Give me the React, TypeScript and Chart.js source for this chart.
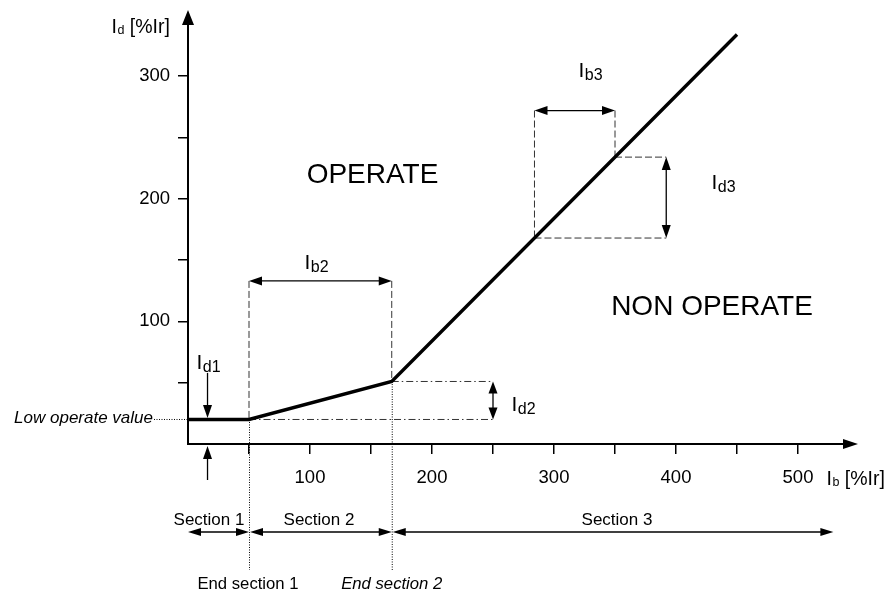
import React, { useEffect, useRef } from "react";
import { Chart, registerables } from "chart.js";

Chart.register(...registerables);

const FONT = '"Liberation Sans", Arial, Helvetica, sans-serif';

// Characteristic curve: bias current Ib vs differential current Id (both in %Ir)
const curveIb = [0, 50, 167, 450];
const curveId = [20, 20, 51, 334];

// Axis ranges and ticks
const xRange = [0, 550];
const yRange = [0, 354];
const tickStep = 50;
const xLabelTicks = [100, 200, 300, 400, 500];
const yLabelTicks = [100, 200, 300];
const xMarkMax = 500;
const yMarkMax = 300;

// Annotation values (in %Ir)
const lowOperateValue = 20;
const endSection1 = 50;
const endSection2 = 167;
const section3End = 529;
const ib2ArrowLevel = 133;
const ib3Range = [284, 350];
const id3Range = [168, 234];
const ib3ArrowLevel = 272;
const id3ArrowIb = 392;
const id2ArrowIb = 250;
const id1ArrowIb = 16;
const id1ArrowTop = 58;

const pts = (arr: number[][]) => arr.map(([x, y]) => ({ x, y }));

const dashedSegments = [
  [[endSection1, ib2ArrowLevel], [endSection1, lowOperateValue]],
  [[endSection2, ib2ArrowLevel], [endSection2, curveId[2]]],
  [[ib3Range[0], ib3ArrowLevel], [ib3Range[0], id3Range[0]]],
  [[ib3Range[1], ib3ArrowLevel], [ib3Range[1], id3Range[1]]],
  [[ib3Range[1], id3Range[1]], [id3ArrowIb, id3Range[1]]],
  [[ib3Range[0], id3Range[0]], [id3ArrowIb, id3Range[0]]],
];
const dashDotSegments = [
  [[endSection2, curveId[2]], [id2ArrowIb, curveId[2]]],
  [[endSection1, lowOperateValue], [id2ArrowIb, lowOperateValue]],
];

function head(ctx: CanvasRenderingContext2D, tx: number, ty: number, ang: number, len: number, half: number) {
  const c = Math.cos(ang), s = Math.sin(ang);
  ctx.beginPath();
  ctx.moveTo(tx, ty);
  ctx.lineTo(tx - len * c + half * s, ty - len * s - half * c);
  ctx.lineTo(tx - len * c - half * s, ty - len * s + half * c);
  ctx.closePath();
  ctx.fill();
}

function arrow(
  ctx: CanvasRenderingContext2D,
  x1: number, y1: number, x2: number, y2: number,
  both: boolean, len = 12, half = 4.5, lw = 1.3
) {
  const ang = Math.atan2(y2 - y1, x2 - x1);
  const c = Math.cos(ang), s = Math.sin(ang);
  const sx = both ? x1 + c * (len - 2) : x1;
  const sy = both ? y1 + s * (len - 2) : y1;
  ctx.lineWidth = lw;
  ctx.beginPath();
  ctx.moveTo(sx, sy);
  ctx.lineTo(x2 - c * (len - 2), y2 - s * (len - 2));
  ctx.stroke();
  head(ctx, x2, y2, ang, len, half);
  if (both) head(ctx, x1, y1, ang + Math.PI, len, half);
}

function subLabel(
  ctx: CanvasRenderingContext2D, x: number, base: number,
  main: string, sub: string, rest: string,
  size: number, subSize: number, drop: number
) {
  ctx.textAlign = "left";
  ctx.textBaseline = "alphabetic";
  ctx.font = `${size}px ${FONT}`;
  ctx.fillText(main, x, base);
  const w1 = ctx.measureText(main).width;
  ctx.font = `${subSize}px ${FONT}`;
  ctx.fillText(sub, x + w1 + 0.5, base + drop);
  const w2 = ctx.measureText(sub).width;
  if (rest) {
    ctx.font = `${size}px ${FONT}`;
    ctx.fillText(rest, x + w1 + w2 + 0.5, base);
  }
}

const diagramPlugin = {
  id: "diagram",
  afterDatasetsDraw(chart: any) {
    const ctx: CanvasRenderingContext2D = chart.ctx;
    const xs = chart.scales.x, ys = chart.scales.y;
    const px = (v: number) => xs.getPixelForValue(v);
    const py = (v: number) => ys.getPixelForValue(v);
    const y0 = py(0), x0 = px(0);
    ctx.save();
    ctx.strokeStyle = "#000";
    ctx.fillStyle = "#000";

    // Axes with arrows
    arrow(ctx, x0, y0, px(xRange[1]) - 1, y0, false, 15, 5, 2);
    arrow(ctx, x0, y0 + 1, x0, py(yRange[1]), false, 15, 6, 2);

    // Dotted leader for low operate value
    ctx.lineWidth = 1;
    ctx.setLineDash([1, 1.5]);
    ctx.beginPath();
    ctx.moveTo(154, py(lowOperateValue));
    ctx.lineTo(x0, py(lowOperateValue));
    ctx.stroke();

    // Dotted end-of-section lines
    const dotBottom = y0 + 126;
    ctx.beginPath();
    ctx.moveTo(px(endSection1) + 0.5, py(lowOperateValue));
    ctx.lineTo(px(endSection1) + 0.5, dotBottom);
    ctx.moveTo(px(endSection2) + 0.5, py(curveId[2]));
    ctx.lineTo(px(endSection2) + 0.5, dotBottom);
    ctx.stroke();
    ctx.setLineDash([]);

    // Dimension arrows
    arrow(ctx, px(endSection1), py(ib2ArrowLevel), px(endSection2), py(ib2ArrowLevel), true, 13, 4.5);
    arrow(ctx, px(ib3Range[0]), py(ib3ArrowLevel), px(ib3Range[1]), py(ib3ArrowLevel), true, 13, 4.5);
    arrow(ctx, px(id3ArrowIb), py(id3Range[1]), px(id3ArrowIb), py(id3Range[0]), true, 13, 4.5);
    arrow(ctx, px(id2ArrowIb), py(curveId[2]), px(id2ArrowIb), py(lowOperateValue), true, 12, 4.5);
    arrow(ctx, px(id1ArrowIb), py(id1ArrowTop), px(id1ArrowIb), py(lowOperateValue) - 1.5, false, 13, 4.5);
    arrow(ctx, px(id1ArrowIb), y0 + 36, px(id1ArrowIb), y0 + 2, false, 13, 4.5);

    // Section arrows
    const secY = y0 + 88;
    arrow(ctx, x0, secY, px(endSection1), secY, true, 13, 4);
    arrow(ctx, px(endSection1) + 1, secY, px(endSection2), secY, true, 13, 4);
    arrow(ctx, px(endSection2) + 1, secY, px(section3End), secY, true, 13, 4);

    // Texts
    ctx.textBaseline = "alphabetic";
    ctx.textAlign = "center";
    ctx.font = `28px ${FONT}`;
    ctx.fillText("OPERATE", 372.5, 183);
    ctx.fillText("NON OPERATE", 712, 315);

    ctx.font = `17px ${FONT}`;
    ctx.fillText("Section 1", 209, y0 + 81);
    ctx.fillText("Section 2", 319, y0 + 81);
    ctx.fillText("Section 3", 617, y0 + 81);
    ctx.font = `16.7px ${FONT}`;
    ctx.fillText("End section 1", px(endSection1) - 1, y0 + 145);
    ctx.font = `italic 16.7px ${FONT}`;
    ctx.fillText("End section 2", px(endSection2), y0 + 145);

    ctx.textAlign = "right";
    ctx.font = `italic 17px ${FONT}`;
    ctx.fillText("Low operate value", 153, py(lowOperateValue) + 4);

    subLabel(ctx, 111.5, 33, "I", "d", " [%Ir]", 19.5, 12.5, 0.5);
    subLabel(ctx, 826.5, 485, "I", "b", " [%Ir]", 19.5, 12.5, 0.5);
    subLabel(ctx, 196.5, 369, "I", "d1", "", 21, 16, 3);
    subLabel(ctx, 304.5, 269, "I", "b2", "", 21, 16, 3);
    subLabel(ctx, 578.5, 77, "I", "b3", "", 21, 16, 3);
    subLabel(ctx, 711.5, 189, "I", "d3", "", 21, 16, 3);
    subLabel(ctx, 511.5, 411, "I", "d2", "", 21, 16, 3);

    ctx.restore();
  },
};

export default function App() {
  const ref = useRef<HTMLCanvasElement | null>(null);

  useEffect(() => {
    if (!ref.current) return;
    const datasets: any[] = [
      {
        data: pts(curveIb.map((x, i) => [x, curveId[i]])),
        borderColor: "#000",
        borderWidth: 3.4,
        pointRadius: 0,
        borderCapStyle: "butt",
        borderJoinStyle: "miter",
        tension: 0,
      },
      ...dashedSegments.map((s) => ({
        data: pts(s),
        borderColor: "#333",
        borderWidth: 1,
        borderDash: [7, 3],
        pointRadius: 0,
      })),
      ...dashDotSegments.map((s) => ({
        data: pts(s),
        borderColor: "#333",
        borderWidth: 1,
        borderDash: [7, 3, 1.5, 3],
        pointRadius: 0,
      })),
    ];

    const chart = new Chart(ref.current, {
      type: "line",
      data: { datasets },
      plugins: [diagramPlugin],
      options: {
        animation: false,
        responsive: true,
        maintainAspectRatio: false,
        layout: { padding: { top: 10, right: 29, left: 0, bottom: 0 } },
        plugins: { legend: { display: false }, tooltip: { enabled: false } },
        elements: { point: { radius: 0 }, line: { fill: false } },
        scales: {
          x: {
            type: "linear",
            min: xRange[0],
            max: xRange[1],
            border: { display: false },
            grid: {
              drawOnChartArea: false,
              drawTicks: true,
              tickLength: 10,
              lineWidth: 1.5,
              color: (c: any) =>
                c.tick && c.tick.value > 0 && c.tick.value <= xMarkMax ? "#000" : "rgba(0,0,0,0)",
            },
            ticks: {
              stepSize: tickStep,
              autoSkip: false,
              maxRotation: 0,
              includeBounds: false,
              padding: 13,
              color: "#000",
              font: { family: FONT, size: 18.5 },
              callback: (v: any) => (xLabelTicks.includes(Number(v)) ? String(v) : ""),
            },
            afterFit: (s: any) => {
              s.height = 150;
              s.paddingLeft = 0;
              s.paddingRight = 0;
            },
          },
          y: {
            type: "linear",
            min: yRange[0],
            max: yRange[1],
            border: { display: false },
            grid: {
              drawOnChartArea: false,
              drawTicks: true,
              tickLength: 10,
              lineWidth: 1.5,
              color: (c: any) =>
                c.tick && c.tick.value > 0 && c.tick.value <= yMarkMax ? "#000" : "rgba(0,0,0,0)",
            },
            ticks: {
              stepSize: tickStep,
              autoSkip: false,
              includeBounds: false,
              padding: 8,
              color: "#000",
              font: { family: FONT, size: 18.5 },
              callback: (v: any) => (yLabelTicks.includes(Number(v)) ? String(v) : ""),
            },
            afterFit: (s: any) => {
              s.width = 188;
              s.paddingTop = 0;
              s.paddingBottom = 0;
            },
          },
        },
      },
    });
    return () => chart.destroy();
  }, []);

  return (
    <div style={{ position: "absolute", left: 0, top: 0, width: 888, height: 594, background: "#fff" }}>
      <canvas ref={ref} />
    </div>
  );
}
